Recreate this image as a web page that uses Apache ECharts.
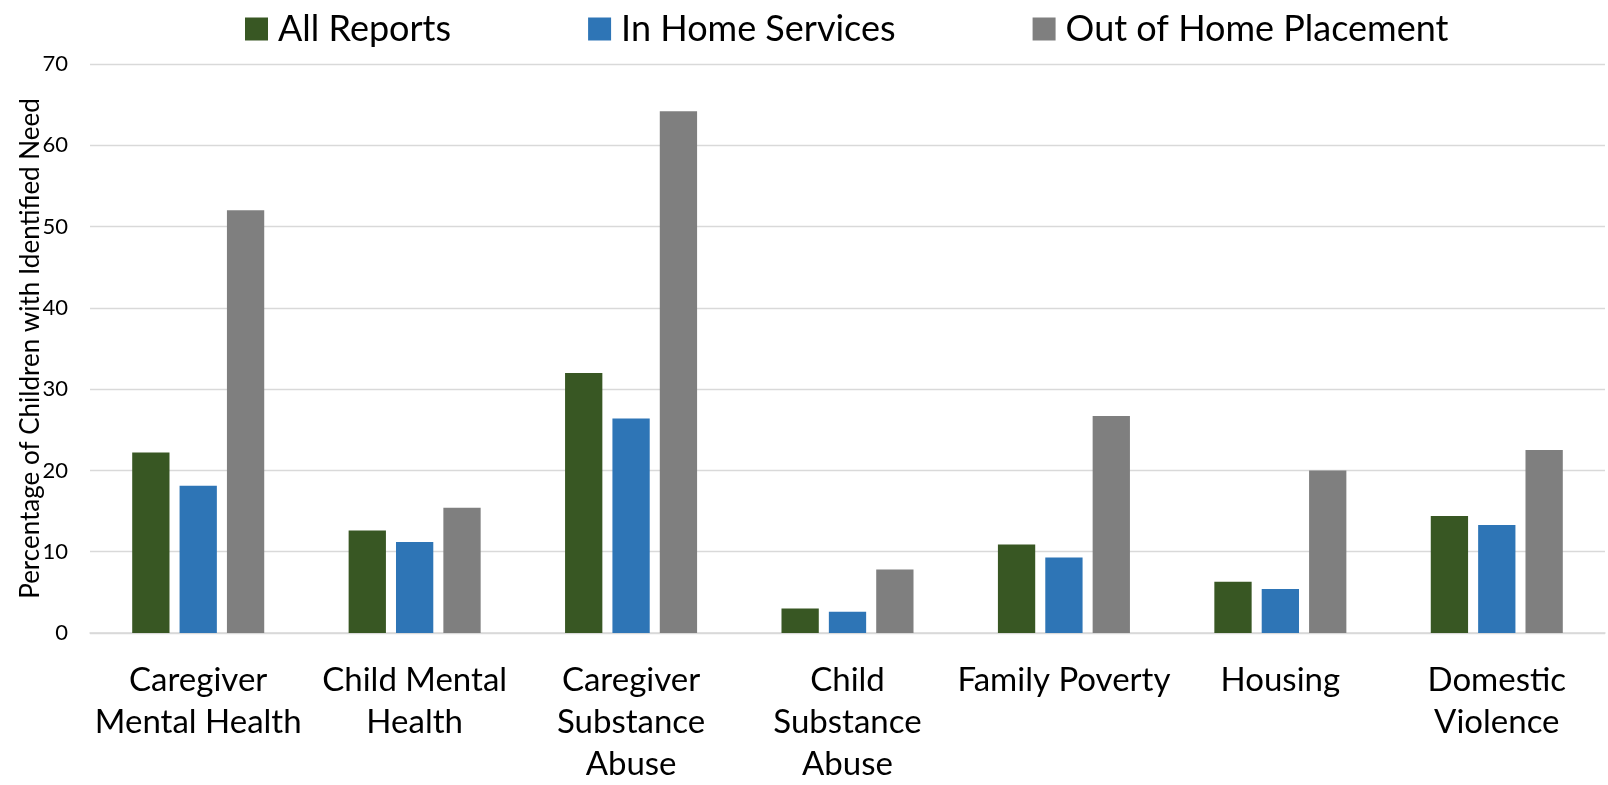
<!DOCTYPE html>
<html>
<head>
<meta charset="utf-8">
<script src="https://cdn.jsdelivr.net/npm/echarts@6/dist/echarts.min.js"></script>
<style>
html,body{margin:0;padding:0;background:#fff;}
#chart{width:1608px;height:785px;}
</style>
</head>
<body>
<div id="chart"></div>
<script>
const categories = ["Caregiver\nMental Health", "Child Mental\nHealth", "Caregiver\nSubstance\nAbuse", "Child\nSubstance\nAbuse", "Family Poverty", "Housing", "Domestic\nViolence"];
const allReports = [22.2, 12.6, 32.0, 3.0, 10.9, 6.3, 14.4];
const inHomeServices = [18.1, 11.2, 26.4, 2.6, 9.3, 5.4, 13.3];
const outOfHomePlacement = [52.0, 15.4, 64.2, 7.8, 26.7, 20.0, 22.5];
const yTicks = [0, 10, 20, 30, 40, 50, 60, 70];

const FONT = "Lato";
const chart = echarts.init(document.getElementById('chart'));
chart.setOption({
  animation: false,
  textStyle: { fontFamily: FONT },
  legend: {
    top: 6,
    left: 240,
    itemWidth: 23,
    itemHeight: 23,
    itemGap: 137,
    icon: 'rect',
    textStyle: { fontSize: 36, color: '#000', fontFamily: FONT, padding: [0, 0, 0, 5] },
    data: ['All Reports', 'In Home Services', 'Out of Home Placement']
  },
  grid: { left: 90, right: 3, top: 64, bottom: 151, containLabel: false },
  xAxis: {
    type: 'category',
    data: categories,
    axisLine: { lineStyle: { color: '#D9D9D9', width: 1.5 } },
    axisTick: { show: false },
    axisLabel: { interval: 0, fontSize: 33, lineHeight: 42, color: '#000', margin: 26, fontFamily: FONT }
  },
  yAxis: {
    type: 'value',
    min: yTicks[0],
    max: yTicks[yTicks.length - 1],
    interval: 10,
    name: 'Percentage of Children with Identified Need',
    nameLocation: 'middle',
    nameGap: 46,
    nameMoveOverlap: false,
    nameTextStyle: { fontSize: 26, color: '#000', fontFamily: FONT },
    axisLine: { show: false },
    axisTick: { show: false },
    axisLabel: { fontSize: 22, color: '#000', margin: 22, fontFamily: FONT },
    splitLine: { lineStyle: { color: '#D9D9D9', width: 1.3 } }
  },
  series: [
    { name: 'All Reports', type: 'bar', data: allReports, itemStyle: { color: '#385723' }, barGap: '27%', barCategoryGap: '39%' },
    { name: 'In Home Services', type: 'bar', data: inHomeServices, itemStyle: { color: '#2E75B6' }, barGap: '27%', barCategoryGap: '39%' },
    { name: 'Out of Home Placement', type: 'bar', data: outOfHomePlacement, itemStyle: { color: '#7F7F7F' }, barGap: '27%', barCategoryGap: '39%' }
  ]
});
</script>
</body>
</html>
